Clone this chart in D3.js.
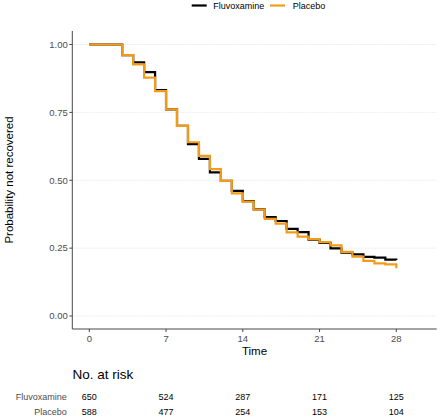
<!DOCTYPE html>
<html>
<head>
<meta charset="utf-8">
<script src="https://cdn.jsdelivr.net/npm/d3@7"></script>
<style>
  html, body { margin: 0; padding: 0; background: #fff; }
  svg { display: block; font-family: "Liberation Sans", Arial, sans-serif; }
</style>
</head>
<body>
<svg id="chart" width="440" height="418"></svg>
<script>
// ---- data ----
const times = [0, 3, 4, 5, 6, 7, 8, 9, 10, 11, 12, 13, 14, 15, 16, 17, 18, 19, 20, 21, 22, 23, 24, 25, 26, 27, 28];
const fluvoxamine = [1.000, 0.961, 0.934, 0.898, 0.832, 0.761, 0.700, 0.633, 0.579, 0.529, 0.498, 0.461, 0.423, 0.393, 0.364, 0.350, 0.321, 0.309, 0.281, 0.269, 0.249, 0.233, 0.227, 0.218, 0.215, 0.208, 0.206];
const placebo     = [1.000, 0.961, 0.927, 0.878, 0.828, 0.761, 0.700, 0.640, 0.590, 0.541, 0.498, 0.452, 0.421, 0.392, 0.358, 0.340, 0.308, 0.292, 0.283, 0.272, 0.260, 0.236, 0.219, 0.203, 0.194, 0.190, 0.176];
const seriesNames = ["Fluvoxamine", "Placebo"];
const seriesColors = ["#000000", "#F39B19"];
const xTicks = [0, 7, 14, 21, 28];
const yTicks = [0, 0.25, 0.5, 0.75, 1.0];
const yTickLabels = ["0.00", "0.25", "0.50", "0.75", "1.00"];
const riskTimes = [0, 7, 14, 21, 28];
const riskFluvoxamine = [650, 524, 287, 171, 125];
const riskPlacebo = [588, 477, 254, 153, 104];

// ---- layout ----
const svg = d3.select("#chart");
const panel = { left: 72.3, right: 436.7, top: 31, bottom: 329 };
const x = d3.scaleLinear().domain([0, 28]).range([89.3, 396.3]);
const y = d3.scaleLinear().domain([0, 1]).range([316, 44.5]);

// gridlines
svg.append("g").selectAll("line").data(yTicks).join("line")
  .attr("x1", panel.left).attr("x2", panel.right)
  .attr("y1", d => y(d)).attr("y2", d => y(d))
  .attr("stroke", "#d6d6d6").attr("stroke-width", 0.6)
  .attr("stroke-dasharray", "1.2,1.2");

// curves
const line = d3.line().x(d => x(d[0])).y(d => y(d[1])).curve(d3.curveStepAfter);
const seriesData = [fluvoxamine, placebo];
seriesData.forEach((vals, i) => {
  const pts = times.map((t, j) => [t, vals[j]]);
  svg.append("path").datum(pts)
    .attr("d", line)
    .attr("fill", "none")
    .attr("stroke", seriesColors[i])
    .attr("stroke-width", 2.2)
    .attr("stroke-linejoin", "miter");
});

// axes
const axisColor = "#333333";
const tickColor = "#4d4d4d";
svg.append("line").attr("x1", panel.left).attr("x2", panel.left)
  .attr("y1", panel.top).attr("y2", panel.bottom)
  .attr("stroke", axisColor).attr("stroke-width", 0.9);
svg.append("line").attr("x1", panel.left).attr("x2", panel.right)
  .attr("y1", panel.bottom).attr("y2", panel.bottom)
  .attr("stroke", axisColor).attr("stroke-width", 0.9);

// y ticks
const yg = svg.append("g");
yg.selectAll("line").data(yTicks).join("line")
  .attr("x1", panel.left - 3).attr("x2", panel.left)
  .attr("y1", d => y(d)).attr("y2", d => y(d))
  .attr("stroke", axisColor).attr("stroke-width", 0.9);
yg.selectAll("text").data(yTicks).join("text")
  .attr("x", panel.left - 4.5).attr("y", d => y(d))
  .attr("dy", "0.35em").attr("text-anchor", "end")
  .attr("font-size", 9.5).attr("fill", tickColor)
  .text((d, i) => yTickLabels[i]);

// x ticks
const xg = svg.append("g");
xg.selectAll("line").data(xTicks).join("line")
  .attr("x1", d => x(d)).attr("x2", d => x(d))
  .attr("y1", panel.bottom).attr("y2", panel.bottom + 3)
  .attr("stroke", axisColor).attr("stroke-width", 0.9);
xg.selectAll("text").data(xTicks).join("text")
  .attr("x", d => x(d)).attr("y", 341.8)
  .attr("text-anchor", "middle")
  .attr("font-size", 9.5).attr("fill", tickColor)
  .text(d => d);

// axis titles
svg.append("text").attr("x", (panel.left + panel.right) / 2).attr("y", 354.5)
  .attr("text-anchor", "middle").attr("font-size", 11.5).attr("fill", "#000")
  .text("Time");
svg.append("text")
  .attr("transform", `translate(12.5,${(panel.top + panel.bottom) / 2}) rotate(-90)`)
  .attr("text-anchor", "middle").attr("font-size", 11.5).attr("fill", "#000")
  .text("Probability not recovered");

// legend
const legendItems = [
  { name: seriesNames[0], color: seriesColors[0], x0: 191.7, tx: 213.3 },
  { name: seriesNames[1], color: seriesColors[1], x0: 270, tx: 292.7 }
];
const lg = svg.append("g");
legendItems.forEach(it => {
  lg.append("line").attr("x1", it.x0).attr("x2", it.x0 + 15)
    .attr("y1", 5.5).attr("y2", 5.5)
    .attr("stroke", it.color).attr("stroke-width", 2.2);
  lg.append("text").attr("x", it.tx).attr("y", 5.5).attr("dy", "0.35em")
    .attr("font-size", 9).attr("fill", "#000").text(it.name);
});

// risk table
svg.append("text").attr("x", 72.5).attr("y", 379)
  .attr("font-size", 13.5).attr("fill", "#000").text("No. at risk");
const riskRows = [
  { name: seriesNames[0], vals: riskFluvoxamine, yy: 397 },
  { name: seriesNames[1], vals: riskPlacebo, yy: 412.3 }
];
riskRows.forEach(r => {
  svg.append("text").attr("x", 66.8).attr("y", r.yy).attr("dy", "0.35em")
    .attr("text-anchor", "end").attr("font-size", 9).attr("fill", tickColor)
    .text(r.name);
  svg.append("g").selectAll("text").data(riskTimes).join("text")
    .attr("x", d => x(d)).attr("y", r.yy).attr("dy", "0.35em")
    .attr("text-anchor", "middle").attr("font-size", 9).attr("fill", "#000")
    .text((d, i) => r.vals[i]);
});
</script>
</body>
</html>
